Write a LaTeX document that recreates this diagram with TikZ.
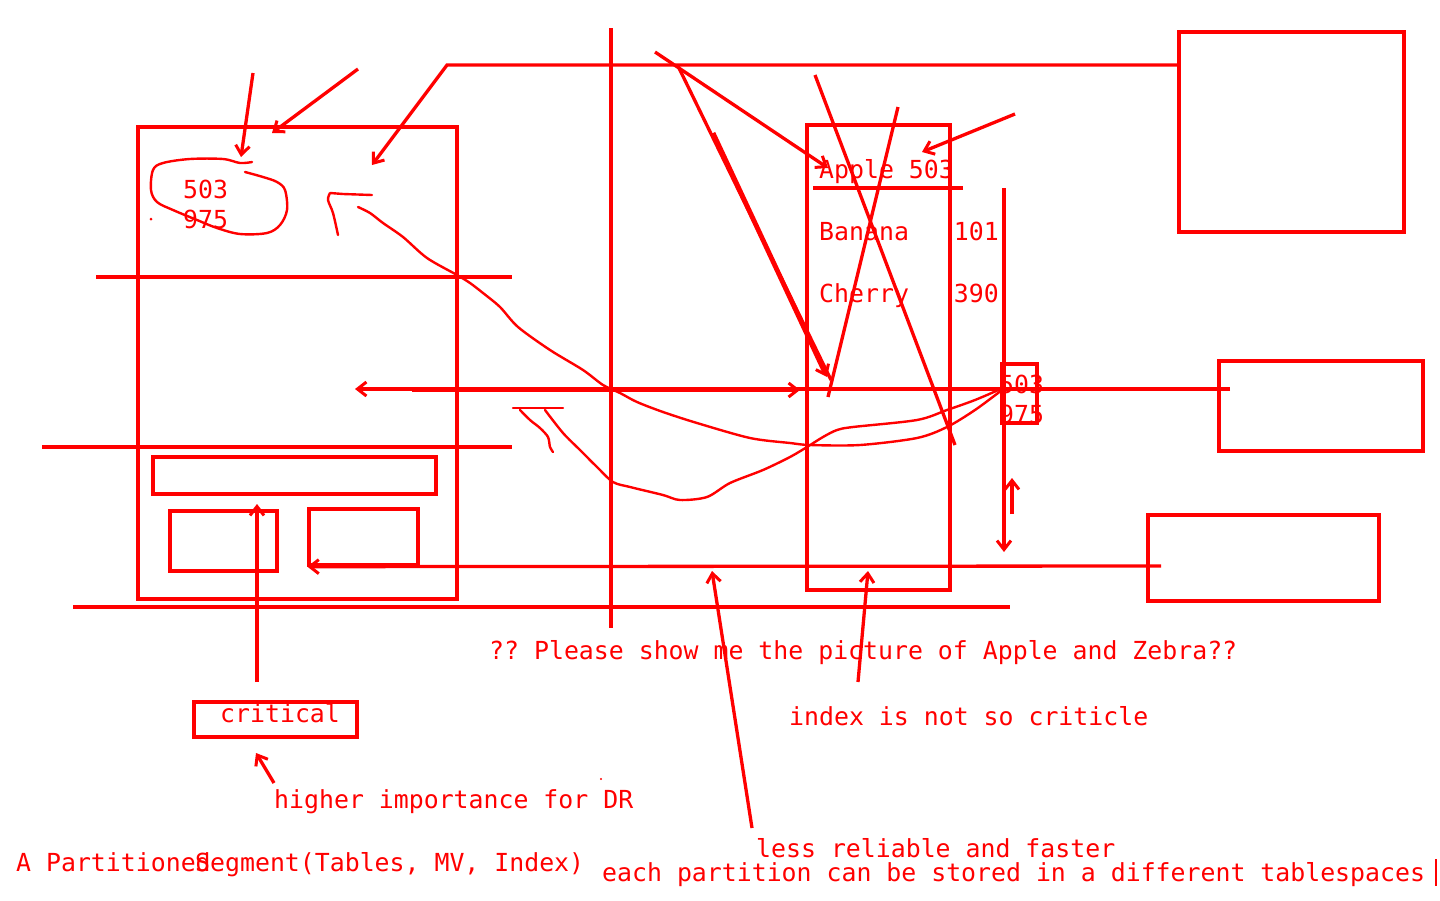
\documentclass[tikz,border=0pt]{standalone}
\usepackage{fontspec}
\setmonofont{DejaVu Sans Mono}
\usetikzlibrary{arrows.meta,fit}
\begin{document}
\begin{tikzpicture}[x=1pt,y=-1pt,
  ln/.style={draw=red,line width=3.3pt},
  thick ln/.style={draw=red,line width=4.8pt},
  wob/.style={draw=red,line width=2.4pt,line join=round,line cap=round},
  arr/.style={-{Straight Barb[length=9pt,width=14pt,line width=3pt]}},
  box/.style={draw=red,line width=3.3pt,inner sep=0pt},
  txt/.style={text=red,font=\ttfamily\fontsize{24.85}{30}\selectfont,inner sep=0pt,anchor=base west},
]
\useasboundingbox (0,0) rectangle (1440,900);

% ---------- boxes ----------
\node[box,fit={(138,127) (457,599)}] (seg) {};
\node[box,fit={(153,457) (436,494)}] (wide) {};
\node[box,fit={(170,511) (277,571)}] (smallL) {};
\node[box,fit={(309,509) (418,565)}] (smallR) {};
\node[box,fit={(807,125) (950,590)}] (part) {};
\node[box,fit={(1179,32) (1404,232)}] (tr) {};
\node[box,fit={(1219,361) (1423,451)}] (mr) {};
\node[box,fit={(1148,515) (1379,601)}] (br) {};
\node[box,fit={(1002,364) (1037,423)}] (sbox) {};

% ---------- texts ----------
\node[txt] (t503a) at (183,198) {503};
\node[txt] (t975a) at (183,228) {975};
\node[txt] (apple) at (819,178) {Apple 503};
\node[txt] (banana) at (819,240) {Banana\ \ \ 101};
\node[txt] (cherry) at (819,302) {Cherry\ \ \ 390};
\node[txt] (t503b) at (999,393) {503};
\node[txt] (t975b) at (999,423) {975};
\node[txt] (q) at (489,659) {?? Please show me the picture of Apple and Zebra??};
\node[txt] (crit) at (220,722) {critical};
\node[box,fit={(194,702) (357,737)}] (critbox) {};
\node[txt] (idx) at (789,725) {index is not so criticle};
\node[txt] (hi) at (274,808) {higher importance for DR};
\node[txt] (less) at (756,857) {less reliable and faster};
\node[txt] (apart) at (16,871) {A Partitioned};
\node[txt] (segtxt) at (195,871) {Segment(Tables, MV, Index)};
\node[txt] (each) at (602,881) {each partition can be stored in a different tablespaces};
\draw[red,line width=1.5pt] (1436,859) -- (1436,886);

% ---------- coordinates ----------
\coordinate (h1a) at (96,277);   \coordinate (h1b) at (512,277);
\coordinate (h2a) at (42,447);   \coordinate (h2b) at (512,447);
\coordinate (h3a) at (73,607);   \coordinate (h3b) at (1010,607);
\coordinate (v1a) at (611,28);   \coordinate (v1b) at (611,628);
\coordinate (topL) at (447,65);  \coordinate (topR) at (1179,65);
\coordinate (topTip) at (372,165);
\coordinate (a1s) at (253,73);   \coordinate (a1e) at (241,157);
\coordinate (a2s) at (358,69);   \coordinate (a2e) at (272,133);
\coordinate (mid1) at (355,389); \coordinate (mid2) at (1230,389);
\coordinate (thk1) at (412,390); \coordinate (thk2) at (800,390);
\coordinate (low1) at (1161,566);
\coordinate (up1) at (257,682);  \coordinate (up2) at (257,504);
\coordinate (ap0) at (655,52);   \coordinate (ap1) at (828,168);
\coordinate (d0) at (678,66);    \coordinate (d1) at (831,380);
\coordinate (k0) at (713,133);   \coordinate (k1) at (827,377);
\coordinate (x0) at (815,75);    \coordinate (x1) at (955,445);
\coordinate (y0) at (898,107);   \coordinate (y1) at (828,397);
\coordinate (r0) at (1015,114);  \coordinate (r1) at (922,152);
\coordinate (u0) at (813,188);   \coordinate (u1) at (963,188);
\coordinate (vv0) at (1004,188); \coordinate (vv1) at (1004,552);
\coordinate (uu0) at (1012,514); \coordinate (uu1) at (1012,478);
\coordinate (cr0) at (274,783);  \coordinate (cr1) at (256,753);
\coordinate (ls0) at (752,828);  \coordinate (ls1) at (712,571);
\coordinate (ix0) at (858,682);  \coordinate (ix1) at (868,571);

% ---------- straight lines ----------
\draw[ln] (h1a) -- (h1b);
\draw[ln] (h2a) -- (h2b);
\draw[ln] (h3a) -- (h3b);
\draw[ln] (v1a) -- (v1b);
\draw[ln,arr] (topR) -- (topL) -- (topTip);
\draw[ln,arr] (a1s) -- (a1e);
\draw[ln,arr] (a2s) -- (a2e);
\draw[ln,arr] (mid2) -- (mid1);
\draw[thick ln,arr] (thk1) -- (thk2);
\draw[ln,arr] (low1) -- (smallR.south west);
\draw[ln,arr] (up1) -- (up2);
\draw[ln,arr] (ap0) -- (ap1);
\draw[ln] (d0) -- (d1);
\draw[thick ln,arr] (k0) -- (k1);
\draw[ln] (x0) -- (x1);
\draw[ln] (y0) -- (y1);
\draw[ln,arr] (r0) -- (r1);
\draw[ln] (u0) -- (u1);
\draw[ln,arr] (vv0) -- (vv1);
\draw[ln,arr] (uu0) -- (uu1);
\draw[ln,arr] (cr0) -- (cr1);
\draw[ln,arr] (ls0) -- (ls1);
\draw[ln,arr] (ix0) -- (ix1);

% ---------- hand-drawn strokes ----------
\draw[wob] plot[smooth,tension=0.55] coordinates {(252,162) (240,163) (223,159) (190,159) (163,163) (153,170) (151,190) (157,202) (173,210) (197,220) (217,228) (240,234) (267,233) (280,225) (287,210) (285,190) (277,182) (263,177) (245,172)};
\fill[red] (151,219) circle (1.5);
\draw[wob] (372,195) -- (343,194) -- (330,193) plot[smooth,tension=0.5] coordinates {(330,193) (328,200) (333,213) (338,235)};
\draw[wob] plot[smooth,tension=0.5] coordinates {(358,207) (370,213) (383,223) (403,237) (427,258) (457,275) (470,283) (483,293) (500,307) (518,327) (550,350) (583,370) (603,385) (620,393) (637,402) (663,412) (697,423) (750,438) (790,443) (810,445) (860,445) (917,438) (947,427) (975,410) (1002,390)};
\draw[wob] (513,408) -- (563,408);
\draw[wob] plot[smooth,tension=0.5] coordinates {(520,410) (530,420) (540,428) (548,437) (550,447) (553,452)};
\draw[wob] plot[smooth,tension=0.5] coordinates {(545,410) (563,433) (580,450) (597,467) (613,482) (630,487) (663,495) (680,500) (707,497) (730,483) (763,470) (790,457) (807,447) (823,437) (837,430) (853,427) (917,420) (947,410) (975,400) (1003,388)};
\fill[red] (601,779) circle (1.2);
\end{tikzpicture}
\end{document}
